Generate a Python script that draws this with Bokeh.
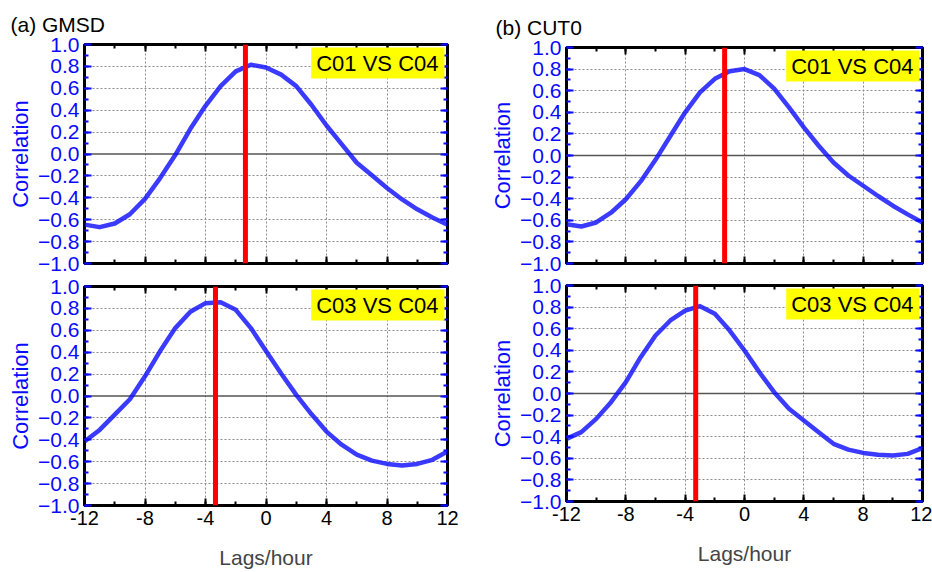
from bokeh.plotting import figure
from bokeh.layouts import row, column
from bokeh.models import FixedTicker, LinearAxis, Span, Label, Range1d
from bokeh.embed import file_html
from bokeh.resources import INLINE

# ---------------- data ----------------
lags = [-12, -11, -10, -9, -8, -7, -6, -5, -4, -3, -2, -1, 0,
        1, 2, 3, 4, 5, 6, 7, 8, 9, 10, 11, 12]

gmsd_c01_c04 = [-0.645, -0.668, -0.635, -0.55, -0.41, -0.22, -0.01, 0.23, 0.44, 0.62,
                0.755, 0.815, 0.79, 0.725, 0.62, 0.45, 0.26, 0.09, -0.08, -0.195,
                -0.31, -0.415, -0.505, -0.58, -0.645]
gmsd_c03_c04 = [-0.415, -0.31, -0.17, -0.03, 0.18, 0.41, 0.62, 0.77, 0.848, 0.857,
                0.787, 0.62, 0.41, 0.205, 0.01, -0.165, -0.325, -0.445, -0.535, -0.59,
                -0.62, -0.635, -0.62, -0.583, -0.507]
cut0_c01_c04 = [-0.636, -0.657, -0.62, -0.53, -0.405, -0.24, -0.04, 0.18, 0.40, 0.585,
                0.71, 0.78, 0.80, 0.745, 0.62, 0.445, 0.26, 0.09, -0.065, -0.185,
                -0.28, -0.375, -0.465, -0.545, -0.62]
cut0_c03_c04 = [-0.42, -0.358, -0.235, -0.08, 0.105, 0.336, 0.537, 0.676, 0.768, 0.809,
                0.738, 0.583, 0.398, 0.198, 0.012, -0.142, -0.25, -0.358, -0.466, -0.52,
                -0.55, -0.568, -0.574, -0.559, -0.506]

peak_lag_gmsd_c01 = -1.36
peak_lag_gmsd_c03 = -3.34
peak_lag_cut0_c01 = -1.34
peak_lag_cut0_c03 = -3.29

panel_titles = ["(a) GMSD", "(b) CUT0"]
pair_labels = ["C01 VS C04", "C03 VS C04"]
x_axis_label = "Lags/hour"
y_axis_label = "Correlation"

x_ticks = [-12, -8, -4, 0, 4, 8, 12]
x_tick_labels = ["-12", "-8", "-4", "0", "4", "8", "12"]
x_minor_ticks = [-12, -10, -8, -6, -4, -2, 0, 2, 4, 6, 8, 10, 12]
x_grid_ticks = [-8, -4, 0, 4, 8]
y_ticks = [-1.0, -0.8, -0.6, -0.4, -0.2, 0.0, 0.2, 0.4, 0.6, 0.8, 1.0]
y_tick_labels = ["\u22121.0", "\u22120.8", "\u22120.6", "\u22120.4", "\u22120.2", "0.0",
                 "0.2", "0.4", "0.6", "0.8", "1.0"]
y_minor_ticks = [-1.0, -0.9, -0.8, -0.7, -0.6, -0.5, -0.4, -0.3, -0.2, -0.1, 0.0,
                 0.1, 0.2, 0.3, 0.4, 0.5, 0.6, 0.7, 0.8, 0.9, 1.0]
y_grid_ticks = [-0.8, -0.6, -0.4, -0.2, 0.2, 0.4, 0.6, 0.8]

FONT = "Liberation Sans"
BLUE = "#0a0aff"


def style_axis(ax, color, show_labels, labels_map, size="20px"):
    ax.axis_line_color = None
    ax.major_tick_in = 7
    ax.major_tick_out = 0
    ax.minor_tick_in = 4
    ax.minor_tick_out = 0
    ax.major_tick_line_color = color
    ax.minor_tick_line_color = color
    ax.major_tick_line_width = 2
    ax.minor_tick_line_width = 2
    ax.major_label_text_font = FONT
    if show_labels:
        ax.major_label_text_font_size = size
        ax.major_label_overrides = labels_map
        ax.major_label_standoff = 5
    else:
        ax.major_label_text_font_size = "1px"
        ax.major_label_text_color = None
        ax.major_label_standoff = 0


def make_panel(series, peak, pair, title, title_off, fw, fh, bl, br, bt, bb, show_x):
    p = figure(frame_width=fw, frame_height=fh, x_range=Range1d(-12, 12),
               y_range=Range1d(-1, 1), output_backend="svg", toolbar_location=None,
               min_border_left=bl, min_border_right=br, min_border_top=bt,
               min_border_bottom=bb, x_axis_location=None, y_axis_location=None)
    p.outline_line_color = "black"
    p.outline_line_width = 3
    p.background_fill_color = "white"
    p.border_fill_color = "white"

    xt = FixedTicker(ticks=x_ticks, minor_ticks=x_minor_ticks)
    yt = FixedTicker(ticks=y_ticks, minor_ticks=y_minor_ticks)
    xmap = {t: l for t, l in zip(x_ticks, x_tick_labels)}
    ymap = {t: l for t, l in zip(y_ticks, y_tick_labels)}

    left = LinearAxis(ticker=yt)
    style_axis(left, BLUE, True, ymap, "21px")
    left.major_label_text_color = BLUE
    left.axis_label = y_axis_label
    left.axis_label_text_color = BLUE
    left.axis_label_text_font = FONT
    left.axis_label_text_font_size = "22px"
    left.axis_label_text_font_style = "normal"
    left.axis_label_standoff = 2
    p.add_layout(left, "left")

    right = LinearAxis(ticker=yt)
    style_axis(right, BLUE, False, ymap)
    p.add_layout(right, "right")

    top = LinearAxis(ticker=xt)
    style_axis(top, "black", False, xmap)
    p.add_layout(top, "above")

    bottom = LinearAxis(ticker=xt)
    style_axis(bottom, "black", show_x, xmap, "20px")
    if show_x:
        bottom.major_label_text_color = "black"
        bottom.axis_label = x_axis_label
        bottom.axis_label_text_font = FONT
        bottom.axis_label_text_font_size = "21px"
        bottom.axis_label_text_font_style = "normal"
        bottom.axis_label_standoff = 18
    p.add_layout(bottom, "below")

    p.xgrid.ticker = FixedTicker(ticks=x_grid_ticks)
    p.ygrid.ticker = FixedTicker(ticks=y_grid_ticks)
    for g in (p.xgrid, p.ygrid):
        g.grid_line_color = "#8a8a8a"
        g.grid_line_dash = "2 2"
        g.grid_line_width = 1

    p.add_layout(Span(location=0, dimension="width", line_color="#555555",
                      line_width=1.5, level="underlay"))

    p.line(lags, series, line_color=BLUE, line_width=4.5, line_alpha=0.8,
           line_join="round")

    p.add_layout(Span(location=peak, dimension="height", line_color="#ff0000",
                      line_width=5))

    p.add_layout(Label(x=12, y=1, text=pair, text_align="right",
                       text_baseline="top", text_font=FONT, text_font_size="22px",
                       text_color="black", background_fill_color="#ffff00",
                       padding=(5, 6, 3, 3), x_offset=-3, y_offset=-3))

    if title:
        p.title.text = title
        p.title.align = "left"
        p.title.offset = title_off
        p.title.text_font = FONT
        p.title.text_font_size = "21px"
        p.title.text_font_style = "normal"
        p.title.text_color = "black"
        p.title.standoff = 18
    return p


a1 = make_panel(gmsd_c01_c04, peak_lag_gmsd_c01, pair_labels[0], panel_titles[0], -74,
                363, 219, 84, 23, 44, 10, False)
a2 = make_panel(gmsd_c03_c04, peak_lag_gmsd_c03, pair_labels[1], None, 0,
                363, 219, 84, 23, 13, 67, True)
b1 = make_panel(cut0_c01_c04, peak_lag_cut0_c01, pair_labels[0], panel_titles[1], -71,
                356, 216, 96, 10, 47, 10, False)
b2 = make_panel(cut0_c03_c04, peak_lag_cut0_c03, pair_labels[1], None, 0,
                356, 216, 96, 10, 12, 71, True)

layout = row(column(a1, a2, spacing=0), column(b1, b2, spacing=0), spacing=0)

open("out.html", "w").write(file_html(layout, INLINE))
